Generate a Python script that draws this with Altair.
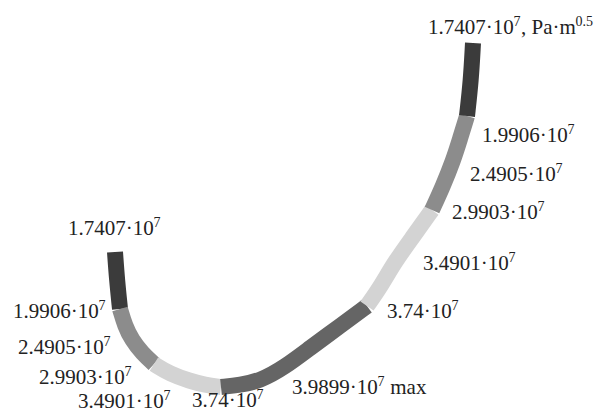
import altair as alt
import pandas as pd

# Stress-intensity levels along the crack front (Pa·m^0.5), colour classes
segments = ["s1L", "s2L", "s3L", "s4", "s3R", "s2R", "s1R"]
seg_colors = ["#3b3b3b", "#8c8c8c", "#d3d3d3", "#656565", "#d3d3d3", "#8c8c8c", "#3b3b3b"]

# Crack-front centreline (x, y in picture units)
seg_x = [
    [115, 117, 120],
    [120, 125, 132, 142, 154],
    [154, 170, 190, 205, 221],
    [221, 240, 260, 285, 310, 340, 367],
    [367, 381, 394, 412, 432],
    [432, 443, 453, 460, 467],
    [467, 471, 473],
]
seg_y = [
    [252, 280, 309],
    [309, 326, 340, 353, 364],
    [364, 374, 381, 385, 387],
    [387, 385, 381, 367, 348, 326, 306],
    [306, 286, 263, 238, 210],
    [210, 186, 161, 139, 116],
    [116, 80, 43],
]

# Level labels: mantissa·10, exponent, tail text, tail exponent
label_base = [
    "1.7407·10", "1.9906·10", "2.4905·10", "2.9903·10",
    "3.4901·10", "3.74·10", "3.9899·10",
    "1.7407·10", "1.9906·10", "2.4905·10", "2.9903·10",
    "3.4901·10", "3.74·10",
]
label_exp = ["7"] * 13
label_tail = [", Pa·m", "", "", "", "", "", " max", "", "", "", "", "", ""]
label_tail_exp = ["0.5", "", "", "", "", "", "", "", "", "", "", "", ""]
label_x = [428, 482, 470, 452, 423, 387, 292, 68, 13, 18, 39, 78, 192]
label_y = [28, 136, 175, 213, 264, 312, 388, 229, 312, 348, 378, 402, 401]

FS, FS_SUP, SUP_RISE, SUP_GAP = 21, 14, 6, 1.5
# Times/Liberation Serif advance widths (em)
CW = {".": 0.25, "·": 0.25, ",": 0.25, " ": 0.25, "P": 0.556, "a": 0.444,
      "m": 0.778, "x": 0.5}


def tw(s, size):
    return sum(CW.get(c, 0.5) for c in s) * size


rows = []
for s, xs_, ys_ in zip(segments, seg_x, seg_y):
    for i, (x, y) in enumerate(zip(xs_, ys_)):
        rows.append({"seg": s, "i": i, "x": x, "y": y})
line_df = pd.DataFrame(rows)

main_rows, sup_rows = [], []
for b, e, t, te, x, y in zip(label_base, label_exp, label_tail, label_tail_exp, label_x, label_y):
    main_rows.append({"t": b, "x": x, "y": y})
    x1 = x + tw(b, FS) + SUP_GAP
    sup_rows.append({"t": e, "x": x1, "y": y - SUP_RISE})
    x2 = x1 + tw(e, FS_SUP) + 0.5
    if t:
        lead = len(t) - len(t.lstrip())
        main_rows.append({"t": t.strip(), "x": x2 + tw(t[:lead], FS), "y": y})
        x3 = x2 + tw(t, FS) + SUP_GAP
        if te:
            sup_rows.append({"t": te, "x": x3, "y": y - SUP_RISE})
main_df = pd.DataFrame(main_rows)
sup_df = pd.DataFrame(sup_rows)

xs = alt.Scale(domain=[8, 602], nice=False, zero=False)
ys = alt.Scale(domain=[8, 412], nice=False, zero=False, reverse=True)

band = alt.Chart(line_df).mark_line(
    strokeWidth=16, strokeCap="butt", interpolate="basis"
).encode(
    x=alt.X("x:Q", scale=xs, axis=None),
    y=alt.Y("y:Q", scale=ys, axis=None),
    order="i:Q",
    detail="seg:N",
    color=alt.Color("seg:N", scale=alt.Scale(domain=segments, range=seg_colors), legend=None),
)

labels = alt.Chart(main_df).mark_text(
    align="left", baseline="middle", font="Liberation Serif", fontSize=FS, color="#222222"
).encode(
    x=alt.X("x:Q", scale=xs, axis=None),
    y=alt.Y("y:Q", scale=ys, axis=None),
    text="t:N",
)

sups = alt.Chart(sup_df).mark_text(
    align="left", baseline="middle", font="Liberation Serif", fontSize=FS_SUP, color="#222222"
).encode(
    x=alt.X("x:Q", scale=xs, axis=None),
    y=alt.Y("y:Q", scale=ys, axis=None),
    text="t:N",
)

chart = (band + labels + sups).properties(
    width=594, height=404, padding=0, background="white",
    autosize=alt.AutoSizeParams(type="none"),
).configure_view(strokeWidth=0, stroke="transparent")

chart.save("out.html", embed_options={"renderer": "svg", "actions": False})
